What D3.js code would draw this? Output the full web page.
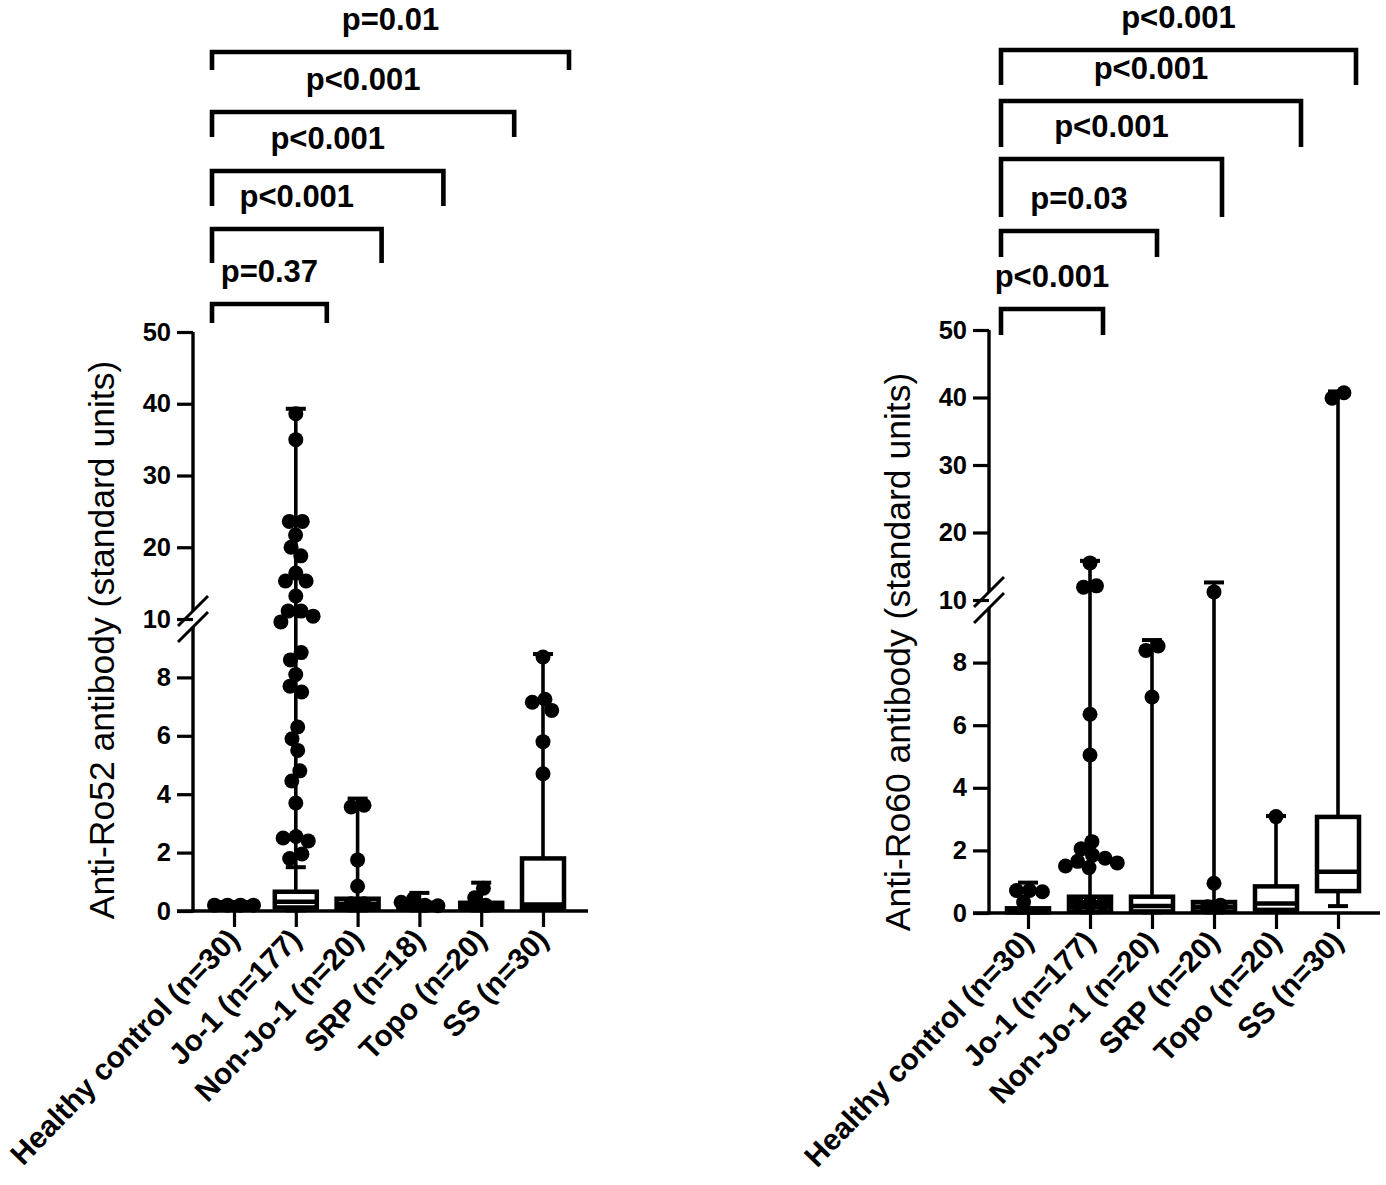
<!DOCTYPE html>
<html><head><meta charset="utf-8">
<script src="https://cdn.jsdelivr.net/npm/d3@7"></script>
<style>
body{margin:0;background:#fff}
text{font-family:"Liberation Sans",Arial,Helvetica,sans-serif;fill:#000}
</style>
</head><body>
<svg id="chart" width="1386" height="1185"></svg>
<script>
// ---------------- DATA ----------------
const catsRo52 = ["Healthy control (n=30)", "Jo-1 (n=177)", "Non-Jo-1 (n=20)", "SRP (n=18)", "Topo (n=20)", "SS (n=30)"];
const catsRo60 = ["Healthy control (n=30)", "Jo-1 (n=177)", "Non-Jo-1 (n=20)", "SRP (n=20)", "Topo (n=20)", "SS (n=30)"];
const yTickValues = [0, 2, 4, 6, 8, 10, 20, 30, 40, 50];

// Anti-Ro52 box statistics per group
const ro52Q1     = [0.08, 0.12, 0.10, 0.05, 0.05, 0.10];
const ro52Median = [0.20, 0.32, 0.25, 0.15, 0.15, 0.22];
const ro52Q3     = [0.30, 0.66, 0.42, 0.28, 0.28, 1.80];
const ro52Min    = [0.05, 0.02, 0.02, 0.02, 0.02, 0.08];
const ro52Max    = [0.30, 39.3, 3.85, 0.62, 0.97, 8.80];
const ro52Fence  = [null, 1.50, null, null, null, null];
const ro52Points = [
  [0.2, 0.2, 0.2, 0.2],
  [38.6, 35.0, 23.6, 23.6, 21.7, 20.0, 18.8, 16.4, 15.3, 15.3, 13.2, 11.1, 11.1, 10.4,
   9.9, 8.85, 8.6, 8.1, 7.7, 7.5, 6.3, 5.9, 5.5, 4.8, 4.45, 3.7, 2.55, 2.5, 2.4, 1.95, 1.8],
  [3.62, 3.56, 1.75, 0.85, 0.25, 0.25],
  [0.42, 0.2, 0.18, 0.3],
  [0.78, 0.45, 0.2],
  [8.7, 7.25, 7.15, 6.87, 5.8, 4.7]
];
const ro52PValues = ["p=0.37", "p<0.001", "p<0.001", "p<0.001", "p=0.01"];

// Anti-Ro60 box statistics per group
const ro60Q1     = [0.02, 0.05, 0.05, 0.05, 0.10, 0.70];
const ro60Median = [0.08, 0.20, 0.22, 0.20, 0.30, 1.32];
const ro60Q3     = [0.15, 0.52, 0.52, 0.35, 0.85, 3.07];
const ro60Min    = [0.02, 0.02, 0.02, 0.02, 0.05, 0.22];
const ro60Max    = [0.97, 15.8, 8.72, 12.6, 3.10, 40.9];
const ro60Fence  = [null, null, null, null, null, null];
const ro60Points = [
  [0.72, 0.72, 0.68, 0.35],
  [15.5, 12.1, 11.9, 6.35, 5.05, 2.28, 2.05, 1.85, 1.75, 1.65, 1.6, 1.5, 1.45, 0.3, 0.3, 0.3],
  [8.53, 8.39, 6.9],
  [11.2, 0.95, 0.25, 0.2],
  [3.08],
  [40.7, 39.9]
];
const ro60PValues = ["p<0.001", "p=0.03", "p<0.001", "p<0.001", "p<0.001"];

// ---------------- LAYOUT ----------------
const panels = [
  {
    cats: catsRo52, q1: ro52Q1, med: ro52Median, q3: ro52Q3, lo: ro52Min, hi: ro52Max,
    fence: ro52Fence, points: ro52Points, pvals: ro52PValues,
    ylabel: "Anti-Ro52 antibody (standard units)",
    axisX: 193, yRange: [911, 619, 332], xRange: [234, 543], xAxisEnd: 588,
    ylabelPos: [114, 640],
    brY: [304, 229, 171, 112, 52], brLeg: [19, 34, 35, 25, 18],
    brLeft: -22, brRight: [31, 24, 24, 33, 26]
  },
  {
    cats: catsRo60, q1: ro60Q1, med: ro60Median, q3: ro60Q3, lo: ro60Min, hi: ro60Max,
    fence: ro60Fence, points: ro60Points, pvals: ro60PValues,
    ylabel: "Anti-Ro60 antibody (standard units)",
    axisX: 989, yRange: [913, 600, 330], xRange: [1028, 1338], xAxisEnd: 1380,
    ylabelPos: [910, 652],
    brY: [309, 231, 159, 101, 50], brLeg: [26, 26, 58, 46, 35],
    brLeft: -27, brRight: [13, 5, 8, 25, 18]
  }
];

const svg = d3.select("#chart");
const BOX_W = 42, R = 7.5, CAP = 10, MIN_D = 13;

function swarm(vals, y) {
  // beeswarm offsets computed from the data (collision avoidance), then clusters centred
  const items = vals.map((v, i) => ({v, i, py: y(v), dx: 0}));
  const order = items.slice().sort((a, b) => a.py - b.py);
  const placed = [];
  order.forEach(p => {
    const forb = [];
    placed.forEach(q => {
      const dy = Math.abs(q.py - p.py);
      if (dy < MIN_D) { const w = Math.sqrt(MIN_D * MIN_D - dy * dy); forb.push([q.dx - w, q.dx + w]); }
    });
    const cands = [0];
    forb.forEach(f => { cands.push(f[0]); cands.push(f[1]); });
    cands.sort((a, b) => Math.abs(a) - Math.abs(b) || a - b);
    for (const c of cands) {
      if (forb.every(f => c <= f[0] + 1e-6 || c >= f[1] - 1e-6)) { p.dx = c; break; }
    }
    placed.push(p);
  });
  const seen = new Set();
  order.forEach(p => {
    if (seen.has(p)) return;
    const comp = [p]; seen.add(p);
    for (let k = 0; k < comp.length; k++) {
      order.forEach(q => {
        if (!seen.has(q) && Math.hypot(q.dx - comp[k].dx, q.py - comp[k].py) < MIN_D + 0.5) { seen.add(q); comp.push(q); }
      });
    }
    if (comp.length > 1) {
      const m = d3.mean(comp, c => c.dx);
      comp.forEach(c => c.dx -= m);
    }
  });
  return items;
}

panels.forEach(P => {
  const y = d3.scaleLinear().domain([0, 10, 50]).range(P.yRange);
  const x = d3.scalePoint().domain(P.cats).range(P.xRange);
  const g = svg.append("g");
  const y0 = y(0), yB = y(10);

  // y axis (ticks + labels)
  const ya = g.append("g").attr("transform", `translate(${P.axisX},0)`)
    .call(d3.axisLeft(y).tickValues(yTickValues).tickSize(16).tickSizeOuter(0).tickPadding(6));
  ya.select(".domain").remove();
  ya.selectAll(".tick line").attr("stroke", "#000").attr("stroke-width", 3.2);
  ya.selectAll(".tick text").style("font-size", "25.5px").style("font-weight", "bold").attr("fill", "#000");
  // axis line with break gap
  g.append("line").attr("x1", P.axisX).attr("x2", P.axisX).attr("y1", y0 + 1.6).attr("y2", yB + 8)
    .attr("stroke", "#000").attr("stroke-width", 3.4);
  g.append("line").attr("x1", P.axisX).attr("x2", P.axisX).attr("y1", yB - 8).attr("y2", y(50))
    .attr("stroke", "#000").attr("stroke-width", 3.4);
  [-8, 8].forEach(o => {
    g.append("line").attr("x1", P.axisX - 15).attr("y1", yB + o + 15)
      .attr("x2", P.axisX + 15).attr("y2", yB + o - 15)
      .attr("stroke", "#000").attr("stroke-width", 3);
  });

  // x axis
  g.append("line").attr("x1", P.axisX - 16).attr("x2", P.xAxisEnd).attr("y1", y0).attr("y2", y0)
    .attr("stroke", "#000").attr("stroke-width", 3.4);
  const xa = g.append("g").attr("transform", `translate(0,${y0})`)
    .call(d3.axisBottom(x).tickSize(16).tickSizeOuter(0));
  xa.select(".domain").remove();
  xa.selectAll(".tick line").attr("stroke", "#000").attr("stroke-width", 3.2);
  xa.selectAll(".tick text").remove();
  g.selectAll(".xlab").data(P.cats).join("text")
    .attr("transform", c => `translate(${x(c) + 7},${y0 + 30}) rotate(-46)`)
    .attr("text-anchor", "end")
    .style("font-size", "29.8px").style("font-weight", "bold")
    .text(c => c);

  // y label
  g.append("text").attr("transform", `translate(${P.ylabelPos[0]},${P.ylabelPos[1]}) rotate(-90)`)
    .attr("text-anchor", "middle").style("font-size", "35.5px").text(P.ylabel);

  // boxes
  P.cats.forEach((c, i) => {
    const cx = x(c);
    const bg = g.append("g");
    bg.append("line").attr("x1", cx).attr("x2", cx).attr("y1", y(P.q3[i])).attr("y2", y(P.hi[i]))
      .attr("stroke", "#000").attr("stroke-width", 3.6);
    bg.append("line").attr("x1", cx).attr("x2", cx).attr("y1", y(P.q1[i])).attr("y2", y(P.lo[i]))
      .attr("stroke", "#000").attr("stroke-width", 3.6);
    bg.append("rect").attr("x", cx - BOX_W / 2).attr("width", BOX_W)
      .attr("y", y(P.q3[i])).attr("height", Math.max(0.5, y(P.q1[i]) - y(P.q3[i])))
      .attr("fill", "#fff").attr("stroke", "#000").attr("stroke-width", 4.5);
    bg.append("line").attr("x1", cx - BOX_W / 2).attr("x2", cx + BOX_W / 2)
      .attr("y1", y(P.med[i])).attr("y2", y(P.med[i])).attr("stroke", "#000").attr("stroke-width", 4.5);
    [P.hi[i], P.lo[i], P.fence[i]].forEach(v => {
      if (v == null) return;
      bg.append("line").attr("x1", cx - CAP).attr("x2", cx + CAP).attr("y1", y(v)).attr("y2", y(v))
        .attr("stroke", "#000").attr("stroke-width", 4);
    });
    const pts = swarm(P.points[i], y);
    bg.selectAll("circle").data(pts).join("circle")
      .attr("cx", p => cx + p.dx).attr("cy", p => p.py).attr("r", R).attr("fill", "#000");
  });

  // significance brackets (all vs Healthy control)
  P.pvals.forEach((pv, k) => {
    const xl = x(P.cats[0]) + P.brLeft;
    const xr = x(P.cats[k + 1]) + P.brRight[k];
    const yy = P.brY[k], leg = P.brLeg[k];
    g.append("path").attr("d", `M${xl},${yy + leg}V${yy}H${xr}V${yy + leg}`)
      .attr("fill", "none").attr("stroke", "#000").attr("stroke-width", 4.6);
    g.append("text").attr("x", (xl + xr) / 2).attr("y", yy - 22).attr("text-anchor", "middle")
      .style("font-size", "31px").style("font-weight", "bold").text(pv);
  });
});
</script>
</body></html>
